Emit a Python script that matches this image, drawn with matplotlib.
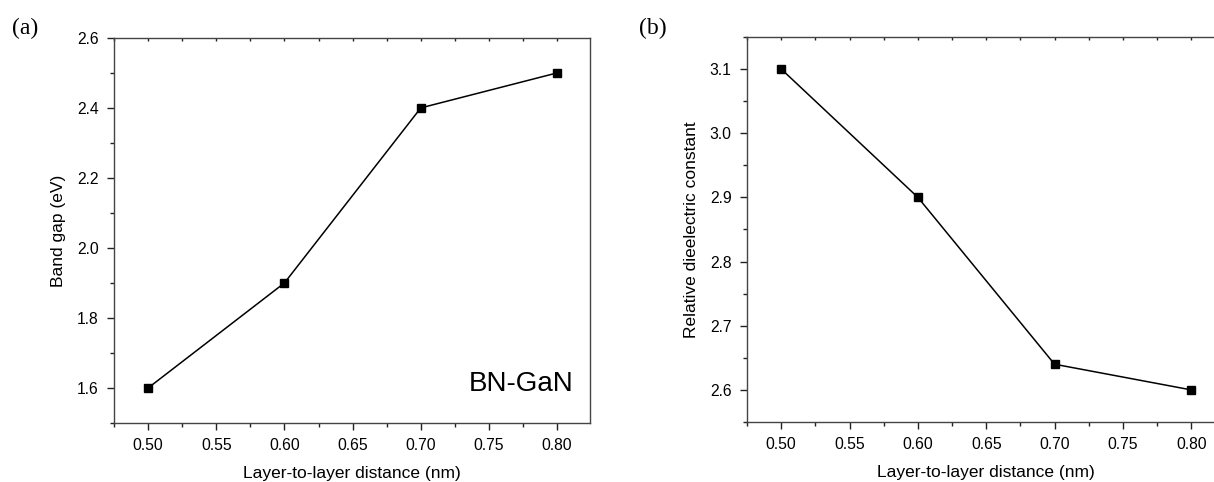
import numpy as np
import matplotlib.pyplot as plt
from matplotlib.ticker import MultipleLocator

# data
dist = [0.50, 0.60, 0.70, 0.80]
band_gap = [1.6, 1.9, 2.4, 2.5]
dielectric = [3.1, 2.9, 2.64, 2.6]

plt.rcParams['font.family'] = ['Liberation Sans', 'DejaVu Sans']

fig = plt.figure(figsize=(12.14, 4.82), dpi=100)
ax1 = fig.add_axes([0.0939, 0.1224, 0.392, 0.799])
ax2 = fig.add_axes([0.6153, 0.1245, 0.393, 0.799])


def style(ax):
    for s in ax.spines.values():
        s.set_color('#444444')
        s.set_linewidth(1.0)
    ax.xaxis.set_major_locator(MultipleLocator(0.05))
    ax.xaxis.set_minor_locator(MultipleLocator(0.025))
    ax.tick_params(which='major', direction='out', length=5, width=1, labelsize=11.3,
                   color='#222222', pad=6)
    ax.tick_params(which='minor', direction='out', length=3, width=1, color='#222222')
    # tiny marks on the top spine
    sec = ax.secondary_xaxis('top')
    sec.xaxis.set_major_locator(MultipleLocator(0.025))
    sec.tick_params(direction='in', length=2, width=1, labeltop=False, color='#222222')
    sec.spines['top'].set_visible(False)
    ax.set_xlabel('Layer-to-layer distance (nm)', fontsize=12.5, labelpad=9)


# (a) band gap
ax1.plot(dist, band_gap, 'k-', lw=1.1, marker='s', ms=5.5)
ax1.set_xlim(0.475, 0.824)
ax1.set_ylim(1.5, 2.6)
ax1.yaxis.set_major_locator(MultipleLocator(0.2))
ax1.yaxis.set_minor_locator(MultipleLocator(0.1))
style(ax1)
ax1.set_xticks([0.50, 0.55, 0.60, 0.65, 0.70, 0.75, 0.80])
ax1.set_xticklabels(['0.50', '0.55', '0.60', '0.65', '0.70', '0.75', '0.80'])
ax1.set_ylabel('Band gap (eV)', fontsize=12.5, labelpad=8)
ax1.text(0.965, 0.1, 'BN-GaN', transform=ax1.transAxes, ha='right', va='center',
         fontsize=20)

# (b) dielectric constant
ax2.plot(dist, dielectric, 'k-', lw=1.1, marker='s', ms=5.5)
ax2.set_xlim(0.475, 0.824)
ax2.set_ylim(2.55, 3.15)
ax2.yaxis.set_major_locator(MultipleLocator(0.1))
ax2.yaxis.set_minor_locator(MultipleLocator(0.05))
style(ax2)
ax2.set_xticks([0.50, 0.55, 0.60, 0.65, 0.70, 0.75, 0.80])
ax2.set_xticklabels(['0.50', '0.55', '0.60', '0.65', '0.70', '0.75', '0.80'])
ax2.set_ylabel('Relative dieelectric constant', fontsize=12.5, labelpad=8)

# panel letters
fig.text(0.021, 0.942, '(a)', family='Liberation Serif', fontsize=17, ha='center', va='center')
fig.text(0.538, 0.942, '(b)', family='Liberation Serif', fontsize=17, ha='center', va='center')

plt.savefig('out.png', dpi=100)
plt.close()
